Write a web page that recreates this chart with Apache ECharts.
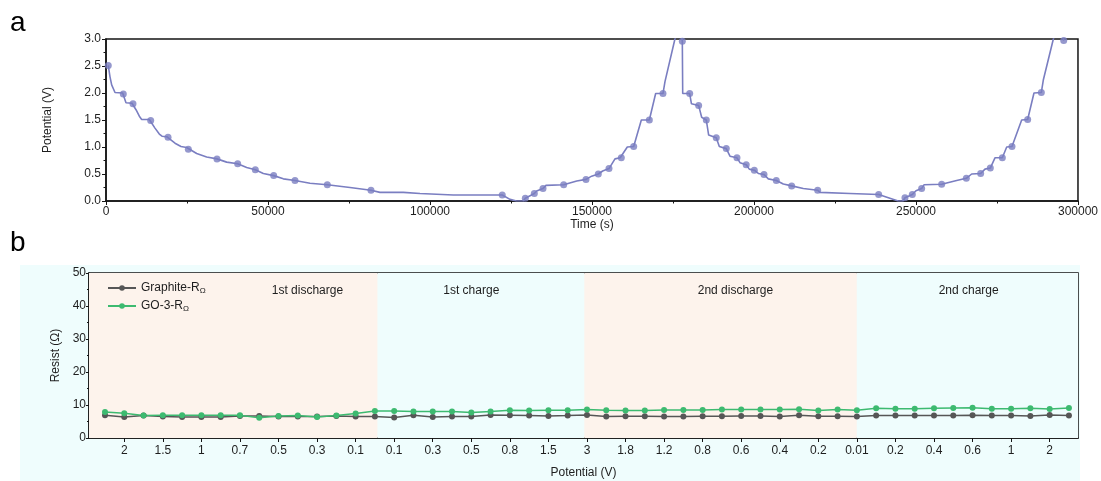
<!DOCTYPE html>
<html>
<head>
<meta charset="utf-8">
<script src="https://cdn.jsdelivr.net/npm/echarts@6/dist/echarts.min.js"></script>
<style>
  html, body { margin: 0; padding: 0; background: #ffffff; }
  #chart { width: 1101px; height: 481px; }
</style>
</head>
<body>
<div id="chart"></div>
<script>
// ---- Panel a: potential vs. time over two discharge/charge cycles ----
const curveTime = [
  700, 1235, 1750, 2780, 5140, 5340, 6170, 8020, 8330, 9260, 10290, 11010, 13370, 13790,
  15120, 16460, 17280, 18730, 19140, 21300, 23150, 24900, 25410, 27980, 31070, 34260,
  37240, 40640, 43420, 46090, 48560, 51750, 54730, 58330, 62960, 68310, 75310, 81790,
  84570, 91770, 96910, 107200, 122300, 124700, 126700, 128800, 129420,
  132200, 132920, 134880, 135800, 141260, 145300, 148150, 149900, 151950, 153300, 155250,
  157100, 158700, 159050, 160900, 162870, 165230, 167700, 169650, 171910, 172530, 175600,
  176300, 177500, 177880,
  178000, 180150, 180700, 182920, 183850, 185280, 186010, 188360, 189300, 191450, 192590,
  194750, 195680, 197600, 198550, 200100, 201340, 203090, 204420, 206890, 209050, 211630,
  215220, 219650, 220370, 229630, 238480, 244500, 246000, 246600,
  248870, 250000, 251750, 252470, 257930, 262550, 265540, 267190, 269960, 271300, 272940,
  274380, 276650, 278000, 279630, 282620, 284470, 286420, 288690, 289300, 292400, 293000,
  295200, 295600
];
const curveVolt = [
  2.51, 2.30, 2.15, 2.01, 2.00, 1.98, 1.82, 1.81, 1.80, 1.69, 1.57, 1.51, 1.51, 1.49,
  1.35, 1.24, 1.20, 1.19, 1.18, 1.07, 1.01, 0.99, 0.96, 0.88, 0.815, 0.78,
  0.72, 0.69, 0.62, 0.58, 0.51, 0.47, 0.41, 0.38, 0.33, 0.30, 0.25, 0.20,
  0.16, 0.16, 0.14, 0.11, 0.11, 0.03, 0.0, 0.0, 0.05,
  0.14, 0.185, 0.23, 0.29, 0.30, 0.37, 0.40, 0.46, 0.50, 0.556, 0.60,
  0.78, 0.80, 0.80, 1.00, 1.01, 1.50, 1.50, 1.99, 1.99, 2.21, 3.00,
  3.10, 3.10, 2.96,
  1.99, 1.99, 1.80, 1.77, 1.55, 1.50, 1.22, 1.17, 1.01, 0.97, 0.83,
  0.80, 0.71, 0.67, 0.59, 0.57, 0.51, 0.49, 0.41, 0.38, 0.315, 0.28,
  0.23, 0.20, 0.16, 0.14, 0.12, 0.0, 0.0, 0.06,
  0.12, 0.19, 0.23, 0.30, 0.31, 0.38, 0.42, 0.50, 0.51, 0.59, 0.61,
  0.80, 0.80, 1.00, 1.01, 1.50, 1.51, 2.00, 2.01, 2.24, 3.00, 3.10,
  3.10, 2.97
];
// measurement points (one per EIS step)
const markTime = [
  700, 5340, 8330, 13790, 19140, 25410, 34260, 40640, 46090, 51750, 58330, 68310, 81790, 122300, 129420,
  132200, 134880, 141260, 148150, 151950, 155250, 159050, 162870, 167700, 171910, 177880,
  180150, 182920, 185280, 188360, 191450, 194750, 197600, 200100, 203090, 206890, 211630, 219650, 238480, 246600,
  248870, 251750, 257930, 265540, 269960, 272940, 276650, 279630, 284470, 288690, 295600
];
const markVolt = [
  2.51, 1.98, 1.80, 1.49, 1.18, 0.96, 0.78, 0.69, 0.58, 0.47, 0.38, 0.30, 0.20, 0.11, 0.05,
  0.14, 0.23, 0.30, 0.40, 0.50, 0.60, 0.80, 1.01, 1.50, 1.99, 2.96,
  1.99, 1.77, 1.50, 1.17, 0.97, 0.80, 0.67, 0.57, 0.49, 0.38, 0.28, 0.20, 0.12, 0.06,
  0.12, 0.23, 0.31, 0.42, 0.51, 0.61, 0.80, 1.01, 1.51, 2.01, 2.97
];

// ---- Panel b: ohmic resistance at each potential step ----
const stepPotential = [
  '2.5', '2', '1.8', '1.5', '1.2', '1', '0.8', '0.7', '0.6', '0.5', '0.4', '0.3', '0.2', '0.1', '0.01',
  '0.1', '0.2', '0.3', '0.4', '0.5', '0.6', '0.8', '1', '1.5', '2',
  '3', '2', '1.8', '1.5', '1.2', '1', '0.8', '0.7', '0.6', '0.5', '0.4', '0.3', '0.2', '0.1', '0.01',
  '0.1', '0.2', '0.3', '0.4', '0.5', '0.6', '0.8', '1', '1.5', '2', '3'
];
const graphiteR = [
  6.9, 6.4, 6.8, 6.5, 6.4, 6.4, 6.4, 6.7, 6.7, 6.5, 6.5, 6.5, 6.7, 6.5, 6.5,
  6.2, 6.9, 6.4, 6.5, 6.5, 7.0, 6.9, 6.8, 6.7, 6.8,
  7.0, 6.5, 6.6, 6.6, 6.5, 6.5, 6.6, 6.6, 6.7, 6.7, 6.5, 6.9, 6.6, 6.6, 6.5,
  6.8, 6.8, 6.8, 6.8, 6.8, 6.9, 6.8, 6.8, 6.7, 7.0, 6.8
];
const go3R = [
  7.9, 7.5, 6.8, 6.9, 6.9, 6.9, 6.9, 6.9, 6.1, 6.7, 6.8, 6.4, 6.8, 7.4, 8.2,
  8.2, 8.0, 8.0, 8.0, 7.7, 8.0, 8.4, 8.3, 8.4, 8.4,
  8.6, 8.4, 8.3, 8.3, 8.5, 8.5, 8.5, 8.6, 8.6, 8.6, 8.6, 8.7, 8.3, 8.6, 8.4,
  9.0, 8.9, 8.9, 9.0, 9.1, 9.2, 8.9, 8.9, 9.0, 8.8, 9.1
];
const phaseNames = ['1st discharge', '1st charge', '2nd discharge', '2nd charge'];
const phaseEdges = [-0.83, 14.14, 24.86, 39.0, 50.47];   // in step-index units
const phaseLabelAt = [10.5, 19.0, 32.7, 44.8];
const phaseIsCharge = [false, true, false, true];

const FONT = '"Liberation Sans", Arial, Helvetica, sans-serif';
const INK = '#1e1e1e';
const FRAME = '#151515';
const PURPLE = '#7a7ec1';
const GRAPHITE = '#565656';
const GREEN = '#3dba70';
const PEACH = '#fdf3ec';
const AQUA = '#effdfd';

const oddSteps = stepPotential.map((_, i) => i).filter(i => i % 2 === 1);

const chart = echarts.init(document.getElementById('chart'), null, { renderer: 'canvas' });

const axisCommon = {
  axisLine: { show: true, onZero: false, lineStyle: { color: FRAME, width: 1.5 } },
  axisTick: { show: true, inside: false, length: 4, lineStyle: { color: FRAME, width: 1 } },
  axisLabel: { fontFamily: FONT, fontSize: 12, color: INK },
  splitLine: { show: false },
  nameTextStyle: { fontFamily: FONT, fontSize: 12, color: INK },
  nameLocation: 'middle'
};

chart.setOption({
  animation: false,
  textStyle: { fontFamily: FONT },
  graphic: [
    {
      type: 'rect', z: -10, silent: true,
      shape: { x: 20, y: 265, width: 1060, height: 216 },
      style: { fill: AQUA }
    },
    {
      type: 'text', left: 10, top: 9, silent: true,
      style: { text: 'a', font: '28px ' + FONT, fill: '#000' }
    },
    {
      type: 'text', left: 10, top: 229, silent: true,
      style: { text: 'b', font: '28px ' + FONT, fill: '#000' }
    }
  ],
  grid: [
    { left: 106, right: 23, top: 39, height: 162, show: true, borderColor: FRAME, borderWidth: 1.5, backgroundColor: 'transparent' },
    { left: 89, right: 23, top: 273, height: 165, show: true, borderColor: FRAME, borderWidth: 1.5, backgroundColor: 'transparent' }
  ],
  legend: {
    data: ['Graphite-RΩ', 'GO-3-RΩ'],
    orient: 'vertical',
    left: 107, top: 282, padding: 0,
    itemWidth: 28, itemHeight: 7, itemGap: 5,
    formatter: name => name.replace('RΩ', 'R{sub|Ω}'),
    textStyle: {
      fontFamily: FONT, fontSize: 12, color: INK,
      rich: { sub: { fontFamily: FONT, fontSize: 8, color: INK, padding: [6, 0, 0, 0] } }
    }
  },
  xAxis: [
    Object.assign({}, axisCommon, {
      type: 'value', gridIndex: 0, min: 0, max: 300000, interval: 50000,
      name: 'Time (s)', nameGap: 11,
      minorTick: { show: true, splitNumber: 2, length: 2.5, lineStyle: { color: FRAME } },
      axisLabel: Object.assign({}, axisCommon.axisLabel, { margin: 5, formatter: v => String(v) })
    }),
    Object.assign({}, axisCommon, {
      type: 'value', gridIndex: 1, min: phaseEdges[0], max: phaseEdges[phaseEdges.length - 1],
      name: 'Potential (V)', nameGap: 29,
      axisTick: Object.assign({}, axisCommon.axisTick, { customValues: oddSteps }),
      axisLabel: Object.assign({}, axisCommon.axisLabel, {
        margin: 7, customValues: oddSteps,
        formatter: v => stepPotential[Math.round(v)]
      })
    })
  ],
  yAxis: [
    Object.assign({}, axisCommon, {
      type: 'value', gridIndex: 0, min: 0, max: 3, interval: 0.5,
      name: 'Potential (V)', nameGap: 52,
      minorTick: { show: true, splitNumber: 2, length: 2.5, lineStyle: { color: FRAME } },
      axisLabel: Object.assign({}, axisCommon.axisLabel, { margin: 5, formatter: v => v.toFixed(1) })
    }),
    Object.assign({}, axisCommon, {
      type: 'value', gridIndex: 1, min: 0, max: 50, interval: 10,
      name: 'Resist (Ω)', nameGap: 26,
      axisTick: Object.assign({}, axisCommon.axisTick, { length: 3 }),
      minorTick: { show: true, splitNumber: 2, length: 2, lineStyle: { color: FRAME } },
      axisLabel: Object.assign({}, axisCommon.axisLabel, { margin: 3 })
    })
  ],
  series: [
    {
      type: 'line', xAxisIndex: 0, yAxisIndex: 0,
      data: curveTime.map((t, i) => [t, curveVolt[i]]),
      showSymbol: false, symbol: 'none', clip: true, silent: true,
      lineStyle: { color: PURPLE, width: 1.6 }
    },
    {
      type: 'scatter', xAxisIndex: 0, yAxisIndex: 0,
      data: markTime.map((t, i) => [t, markVolt[i]]),
      symbol: 'circle', symbolSize: 7, clip: false, silent: true,
      itemStyle: { color: PURPLE }
    },
    {
      name: 'Graphite-RΩ', type: 'line', xAxisIndex: 1, yAxisIndex: 1,
      data: graphiteR.map((r, i) => [i, r]),
      symbol: 'circle', symbolSize: 6, showSymbol: true,
      lineStyle: { color: GRAPHITE, width: 1.5 },
      itemStyle: { color: GRAPHITE },
      markArea: {
        silent: true,
        data: phaseNames.map((n, k) => [
          { xAxis: phaseEdges[k], itemStyle: { color: phaseIsCharge[k] ? AQUA : PEACH } },
          { xAxis: phaseEdges[k + 1] }
        ])
      }
    },
    {
      name: 'GO-3-RΩ', type: 'line', xAxisIndex: 1, yAxisIndex: 1,
      data: go3R.map((r, i) => [i, r]),
      symbol: 'circle', symbolSize: 6, showSymbol: true,
      lineStyle: { color: GREEN, width: 1.5 },
      itemStyle: { color: GREEN },
      markPoint: {
        silent: true, symbol: 'circle', symbolSize: 0,
        label: { show: true, position: 'inside', formatter: p => p.name, fontFamily: FONT, fontSize: 12, color: INK },
        data: phaseNames.map((n, k) => ({ name: n, coord: [phaseLabelAt[k], 44.6] }))
      }
    }
  ]
});
</script>
</body>
</html>
